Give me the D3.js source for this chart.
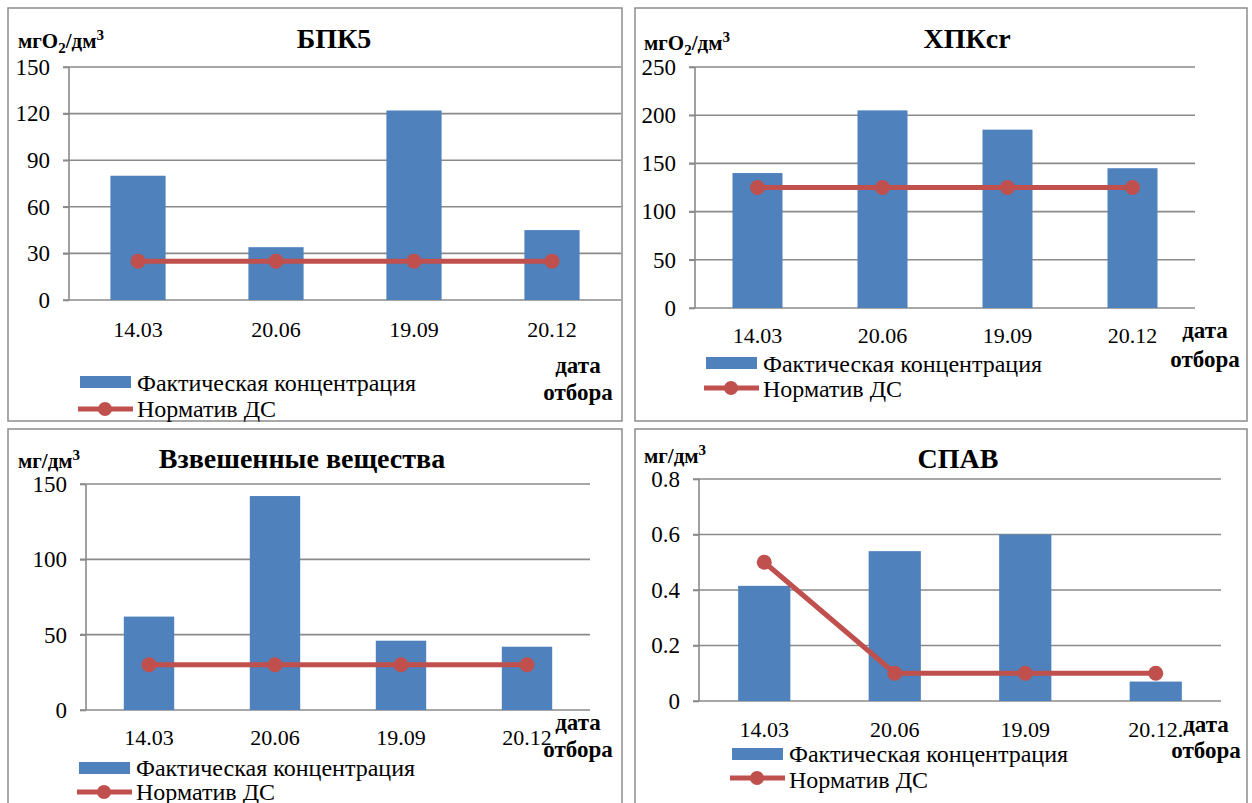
<!DOCTYPE html>
<html><head><meta charset="utf-8">
<script src="https://cdn.jsdelivr.net/npm/d3@7"></script>
<style>
html,body{margin:0;padding:0;background:#fff;}
svg{display:block;}
svg text{font-family:"Liberation Serif","Times New Roman",Times,"DejaVu Serif","Noto Serif",serif !important;fill:#000;}
</style></head>
<body>
<svg id="c" width="1252" height="803"></svg>
<script>
// ---------- data ----------
const categories = ["14.03", "20.06", "19.09", "20.12"];
const categoriesSpav = ["14.03", "20.06", "19.09", "20.12."];
const seriesNames = ["Фактическая концентрация", "Норматив ДС"];

const bpkActual = [80, 34, 122, 45];
const bpkNorm = [25, 25, 25, 25];
const bpkTicks = [0, 30, 60, 90, 120, 150];

const hpkActual = [140, 205, 185, 145];
const hpkNorm = [125, 125, 125, 125];
const hpkTicks = [0, 50, 100, 150, 200, 250];

const vzvActual = [62, 142, 46, 42];
const vzvNorm = [30, 30, 30, 30];
const vzvTicks = [0, 50, 100, 150];

const spavActual = [0.415, 0.54, 0.6, 0.07];
const spavNorm = [0.5, 0.1, 0.1, 0.1];
const spavTicks = [0, 0.2, 0.4, 0.6, 0.8];

const titles = ["БПК5", "ХПКcr", "Взвешенные вещества", "СПАВ"];
const xAxisTitle = ["дата", "отбора"];

// ---------- layout ----------
const FONT = '"Liberation Serif","Times New Roman",Times,"DejaVu Serif","Noto Serif",serif';
const BLUE = "#4F81BD", RED = "#C0504D", GRID = "#8a8a8a";
const svg = d3.select("#c").attr("font-family", FONT);

const panels = [
  { title: titles[0], unit: "O2", cats: categories, actual: bpkActual, norm: bpkNorm, ticks: bpkTicks,
    border: [8, 8, 614, 413], x0: 69, x1: 621, yTop: 67, yBot: 300,
    titleX: 334, titleY: 48, unitX: 18, unitY: 48, xlabY: 337,
    dataX: 578, dataY1: 373, dataY2: 400,
    legX: 80, legRectY: 376, legText1: 391, legLineY: 409, legText2: 417 },
  { title: titles[1], unit: "O2", cats: categories, actual: hpkActual, norm: hpkNorm, ticks: hpkTicks,
    border: [635, 8, 612, 413], x0: 695, x1: 1195, yTop: 67, yBot: 308,
    titleX: 967, titleY: 48, unitX: 644, unitY: 50, xlabY: 343,
    dataX: 1205, dataY1: 338, dataY2: 367,
    legX: 706, legRectY: 357, legText1: 372, legLineY: 388, legText2: 397 },
  { title: titles[2], unit: "", cats: categories, actual: vzvActual, norm: vzvNorm, ticks: vzvTicks,
    border: [8, 429, 614, 390], x0: 86, x1: 590, yTop: 484, yBot: 710,
    titleX: 302, titleY: 468, unitX: 18, unitY: 468, xlabY: 745,
    dataX: 578, dataY1: 730, dataY2: 757,
    legX: 79, legRectY: 762, legText1: 776, legLineY: 792, legText2: 800 },
  { title: titles[3], unit: "", cats: categoriesSpav, actual: spavActual, norm: spavNorm, ticks: spavTicks,
    border: [635, 429, 612, 390], x0: 699, x1: 1221, yTop: 479, yBot: 701,
    titleX: 958, titleY: 468, unitX: 644, unitY: 463, xlabY: 737,
    dataX: 1206, dataY1: 732, dataY2: 758,
    legX: 732, legRectY: 748, legText1: 762, legLineY: 778, legText2: 788 }
];

panels.forEach(p => {
  const g = svg.append("g");
  g.append("rect").attr("x", p.border[0]).attr("y", p.border[1])
    .attr("width", p.border[2]).attr("height", p.border[3])
    .attr("fill", "none").attr("stroke", "#8c8c8c").attr("stroke-width", 1.5);

  const x = d3.scaleBand().domain(p.cats).range([p.x0, p.x1]).paddingInner(0.6).paddingOuter(0.3);
  const y = d3.scaleLinear().domain([0, d3.max(p.ticks)]).range([p.yBot, p.yTop]);

  g.append("g").selectAll("line").data(p.ticks).join("line")
    .attr("x1", p.x0 - 6).attr("x2", p.x1)
    .attr("y1", d => y(d)).attr("y2", d => y(d))
    .attr("stroke", GRID).attr("stroke-width", 1.6);

  const ya = g.append("g").attr("transform", `translate(${p.x0},0)`)
    .call(d3.axisLeft(y).tickValues(p.ticks).tickSize(6).tickPadding(13).tickFormat(d => String(d)));
  ya.attr("font-family", FONT);
  ya.select(".domain").attr("stroke", GRID).attr("stroke-width", 1.6).attr("d", `M0,${p.yTop}V${p.yBot}`);
  ya.selectAll(".tick line").attr("stroke", GRID).attr("stroke-width", 1.6);
  ya.selectAll(".tick text").attr("font-size", 23).attr("fill", "#000").attr("font-family", FONT);

  const xa = g.append("g").attr("transform", `translate(0,${p.yBot})`)
    .call(d3.axisBottom(x).tickSize(0).tickPadding(0));
  xa.attr("font-family", FONT);
  xa.select(".domain").remove();
  xa.selectAll(".tick text").attr("font-size", 22).attr("fill", "#000").attr("font-family", FONT)
    .attr("dy", null).attr("y", p.xlabY - p.yBot);

  g.append("g").selectAll("rect").data(p.actual).join("rect")
    .attr("x", (d, i) => x(p.cats[i])).attr("width", x.bandwidth())
    .attr("y", d => y(d)).attr("height", d => p.yBot - y(d))
    .attr("fill", BLUE);

  const cx = (d, i) => x(p.cats[i]) + x.bandwidth() / 2;
  g.append("path").datum(p.norm)
    .attr("d", d3.line().x(cx).y(d => y(d)))
    .attr("fill", "none").attr("stroke", RED).attr("stroke-width", 5);
  g.append("g").selectAll("circle").data(p.norm).join("circle")
    .attr("cx", cx).attr("cy", d => y(d)).attr("r", 7.5).attr("fill", RED);

  g.append("text").attr("x", p.titleX).attr("y", p.titleY).attr("text-anchor", "middle")
    .attr("font-family", FONT).attr("font-size", 28).attr("font-weight", "bold").text(p.title);

  const u = g.append("text").attr("x", p.unitX).attr("y", p.unitY)
    .attr("font-family", FONT).attr("font-size", 21).attr("font-weight", "bold");
  if (p.unit === "O2") {
    u.append("tspan").text("мгО");
    u.append("tspan").attr("font-size", 15).attr("dy", 5).text("2");
    u.append("tspan").attr("dy", -5).text("/дм");
    u.append("tspan").attr("font-size", 15).attr("dy", -8).text("3");
  } else {
    u.append("tspan").text("мг/дм");
    u.append("tspan").attr("font-size", 15).attr("dy", -8).text("3");
  }

  g.append("text").attr("x", p.dataX).attr("y", p.dataY1).attr("text-anchor", "middle")
    .attr("font-family", FONT).attr("font-size", 23).attr("font-weight", "bold").text(xAxisTitle[0]);
  g.append("text").attr("x", p.dataX).attr("y", p.dataY2).attr("text-anchor", "middle")
    .attr("font-family", FONT).attr("font-size", 23).attr("font-weight", "bold").text(xAxisTitle[1]);

  g.append("rect").attr("x", p.legX).attr("y", p.legRectY).attr("width", 51).attr("height", 12).attr("fill", BLUE);
  g.append("text").attr("x", p.legX + 57).attr("y", p.legText1).attr("font-family", FONT).attr("font-size", 24).text(seriesNames[0]);
  g.append("line").attr("x1", p.legX - 2).attr("x2", p.legX + 53)
    .attr("y1", p.legLineY).attr("y2", p.legLineY).attr("stroke", RED).attr("stroke-width", 5);
  g.append("circle").attr("cx", p.legX + 25).attr("cy", p.legLineY).attr("r", 7).attr("fill", RED);
  g.append("text").attr("x", p.legX + 57).attr("y", p.legText2).attr("font-family", FONT).attr("font-size", 24).text(seriesNames[1]);
});
</script>
</body></html>
